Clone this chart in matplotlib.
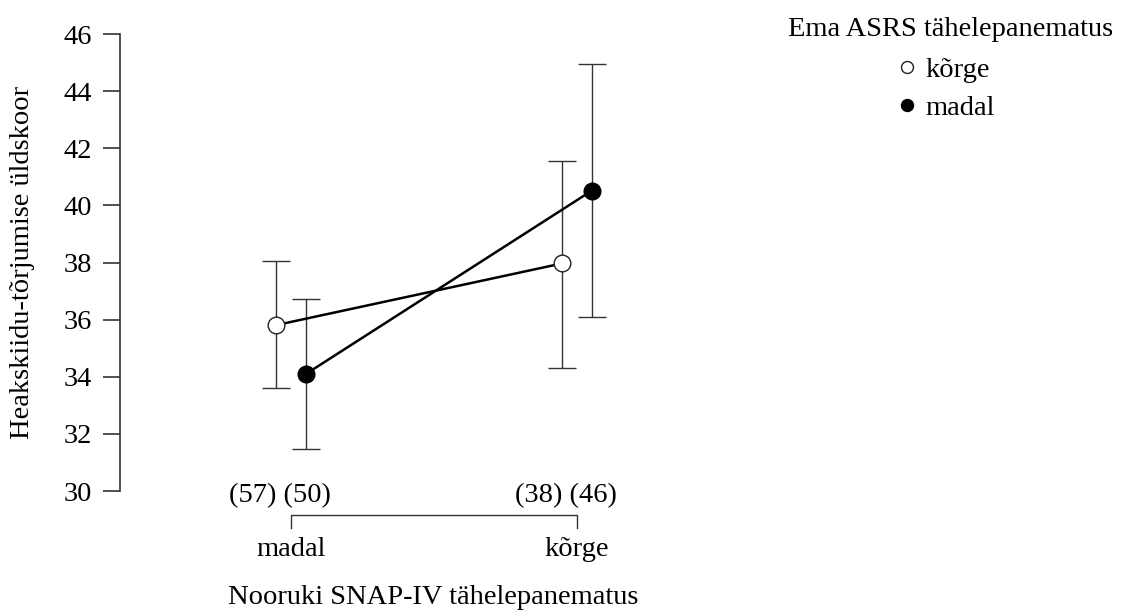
import numpy as np
import matplotlib
matplotlib.use('Agg')
import matplotlib.pyplot as plt
from matplotlib.lines import Line2D

plt.rcParams['font.family'] = ['Liberation Serif', 'DejaVu Serif']
plt.rcParams['font.size'] = 20.5

# Nooruki SNAP-IV tähelepanematus (x-kategooriad)
groups = ['madal', 'kõrge']

# Ema ASRS tähelepanematus: kõrge (tühi ring)
korge_mean = [35.81, 37.97]
korge_lo = [33.62, 34.32]
korge_hi = [38.06, 41.55]
korge_n = [57, 38]

# Ema ASRS tähelepanematus: madal (täis ring)
madal_mean = [34.09, 40.51]
madal_lo = [31.46, 36.10]
madal_hi = [36.72, 44.96]
madal_n = [50, 46]

yticks = [30, 32, 34, 36, 38, 40, 42, 44, 46]

fig = plt.figure(figsize=(11.21, 6.12), dpi=100)
ax = fig.add_axes([0.10705, 0.19771, 0.5352, 0.74673])

x = np.arange(len(groups))
off = 0.051
xk = x - off
xm = x + off

ecol = '#333333'
for xs, m, lo, hi in [(xk, korge_mean, korge_lo, korge_hi), (xm, madal_mean, madal_lo, madal_hi)]:
    m = np.array(m)
    yerr = [m - np.array(lo), np.array(hi) - m]
    ax.errorbar(xs, m, yerr=yerr, fmt='none', ecolor=ecol, elinewidth=1.0,
                capsize=10, capthick=1.0, zorder=1)

ax.plot(xk, korge_mean, '-', color='black', lw=1.8, zorder=2)
ax.plot(xm, madal_mean, '-', color='black', lw=1.8, zorder=2)
ax.plot(xk, korge_mean, 'o', ms=12, mfc='white', mec='#222222', mew=1.0, zorder=3)
ax.plot(xm, madal_mean, 'o', ms=12, mfc='black', mec='black', mew=1.0, zorder=3)

ax.set_ylim(30, 46)
ax.set_xlim(-0.598, 1.5)
ax.set_yticks(yticks)
ax.set_xticks([])
for s in ['top', 'right', 'bottom']:
    ax.spines[s].set_visible(False)
ax.spines['left'].set_linewidth(1.2)
ax.spines['left'].set_color('#333333')
ax.tick_params(axis='y', direction='out', length=12, width=1.2, color='#333333', pad=8)

# valimi suurused
for i in range(len(groups)):
    ax.text(x[i] - 0.038, 29.85, f'({korge_n[i]}) ({madal_n[i]})', ha='center', va='center',
            clip_on=False)

# sulg x-telje all
ax.plot([x[0], x[0], x[1], x[1]], [28.70, 29.16, 29.16, 28.70], color='#333333', lw=1.0,
        clip_on=False)
for i, g in enumerate(groups):
    ax.text(x[i], 28.40, g, ha='center', va='top', clip_on=False)

fig.text(433.5 / 1121, 1 - 597 / 612, 'Nooruki SNAP-IV tähelepanematus', ha='center', va='center')
fig.text(23 / 1121, 1 - 262 / 612, 'Heakskiidu-tõrjumise üldskoor', ha='center', va='center',
         rotation=90)

# legend
fig.text(951 / 1121, 1 - 29 / 612, 'Ema ASRS tähelepanematus', ha='center', va='center')
handles = [Line2D([], [], ls='none', marker='o', ms=8.6, mfc='white', mec='#222222', mew=1.0),
           Line2D([], [], ls='none', marker='o', ms=8.6, mfc='black', mec='black')]
fig.legend(handles, ['kõrge', 'madal'], loc='upper left',
           bbox_to_anchor=(900 / 1121, 1 - 57 / 612), frameon=False,
           handlelength=0.5, handletextpad=0.4, labelspacing=0.43, borderpad=0,
           borderaxespad=0)

fig.savefig('out.png', dpi=100)
